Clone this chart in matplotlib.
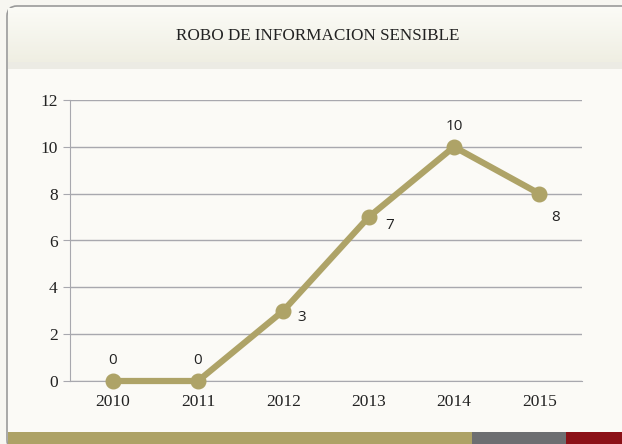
import matplotlib
matplotlib.use("Agg")
import matplotlib.pyplot as plt
from matplotlib.patches import FancyBboxPatch, Rectangle
from matplotlib.colors import LinearSegmentedColormap
import numpy as np

years = ["2010", "2011", "2012", "2013", "2014", "2015"]
values = [0, 0, 3, 7, 10, 8]
label_offsets = [(0, 15), (0, 15), (13, -5), (15, -6), (0, 15), (12, -17)]
yticks = [0, 2, 4, 6, 8, 10, 12]
title = "ROBO DE INFORMACION SENSIBLE"

W, H = 622, 444
fig = plt.figure(figsize=(W / 100, H / 100), dpi=100)
fig.patch.set_facecolor("#f7f6f1")

# frame and header
bg = fig.add_axes([0, 0, 1, 1])
bg.set_xlim(0, W); bg.set_ylim(H, 0); bg.axis("off")
frame = FancyBboxPatch((7, 6), W + 20, H, boxstyle="round,pad=0,rounding_size=10",
                       facecolor="#fbfaf6", edgecolor="#9a9a9a", linewidth=1.2)
bg.add_patch(frame)
grad = np.linspace(0, 1, 50).reshape(-1, 1)
cmap = LinearSegmentedColormap.from_list("h", ["#fbfbf6", "#efeee2"])
bg.imshow(grad, cmap=cmap, extent=(8, W, 64, 8), aspect="auto", zorder=1)
bg.add_patch(Rectangle((8, 62), W, 7, facecolor="#ecebe4", edgecolor="none", zorder=1))
bg.text(318, 36, title, ha="center", va="center", fontsize=12.3,
        family="Liberation Serif", color="#222222", zorder=3)
bg.add_patch(Rectangle((8, 432), 464, 14, facecolor="#ada266", edgecolor="none", zorder=3))
bg.add_patch(Rectangle((472, 432), 94, 14, facecolor="#6d6e71", edgecolor="none", zorder=3))
bg.add_patch(Rectangle((566, 432), 60, 14, facecolor="#8b1117", edgecolor="none", zorder=3))

ax = fig.add_axes([70 / W, 1 - 381 / H, 512 / W, 281 / H])
ax.set_facecolor("none")
x = np.arange(len(years))
ax.plot(x, values, color="#aea367", linewidth=4.5, marker="o", markersize=10.5,
        solid_capstyle="round", zorder=3, clip_on=False)
for xi, v, off in zip(x, values, label_offsets):
    ax.annotate(str(v), (xi, v), xytext=off, textcoords="offset points",
                ha="center", va="center", fontsize=11, family="Open Sans", color="#222222")
ax.set_xlim(-0.5, len(years) - 0.5)
ax.set_ylim(0, 12)
ax.set_yticks(yticks)
ax.set_xticks(x)
ax.set_xticklabels(years, family="Liberation Serif", fontsize=12.5, color="#222222")
ax.set_yticklabels([str(t) for t in yticks], family="Liberation Serif", fontsize=12.5, color="#222222")
ax.grid(axis="y", color="#a8a8ae", linewidth=1)
ax.set_axisbelow(True)
for s in ["top", "right"]:
    ax.spines[s].set_visible(False)
ax.spines["left"].set_color("#a8a8ae")
ax.spines["bottom"].set_color("#a8a8ae")
ax.tick_params(axis="y", length=5, color="#a8a8ae", pad=4)
ax.tick_params(axis="x", length=0, pad=9)

fig.savefig("out.png", dpi=100)
